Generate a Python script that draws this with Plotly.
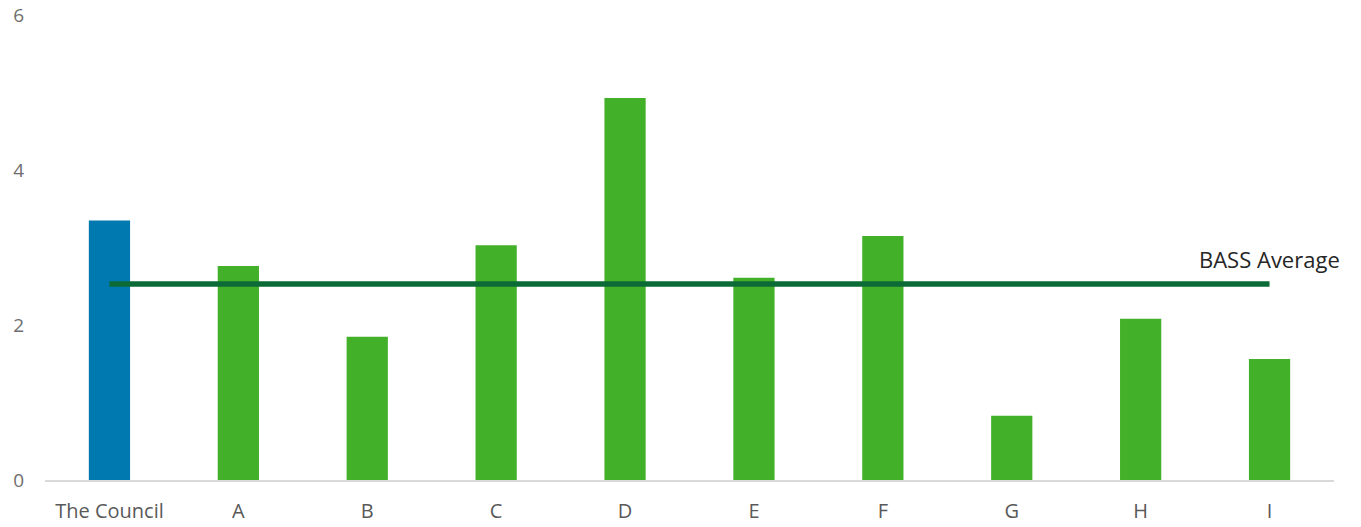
import plotly.graph_objects as go

categories = ["The Council", "A", "B", "C", "D", "E", "F", "G", "H", "I"]
values = [3.35, 2.76, 1.85, 3.03, 4.93, 2.61, 3.15, 0.83, 2.08, 1.56]
bass_average = 2.53
bar_colors = ["#0079B0"] + ["#43B02A"] * 9

fig = go.Figure()
fig.add_trace(go.Bar(
    x=categories, y=values, marker=dict(color=bar_colors, line=dict(width=0)),
    showlegend=False, hoverinfo="x+y",
))
fig.add_trace(go.Scatter(
    x=categories, y=[bass_average] * len(categories), mode="lines",
    line=dict(color="#0B6B36", width=5.5), showlegend=False,
))
fig.add_annotation(
    x=categories[-1], y=bass_average, text="BASS Average", showarrow=False,
    yshift=25, xanchor="center", yanchor="middle",
    font=dict(family="Open Sans", size=22, color="#262626"),
)

fig.update_layout(
    width=1361, height=527,
    margin=dict(l=45, r=27, t=15, b=47, autoexpand=False),
    paper_bgcolor="white", plot_bgcolor="white",
    bargap=0.68,
    font=dict(family="Open Sans", color="#595959"),
    xaxis=dict(
        range=[-0.5, len(categories) - 0.5],
        showgrid=False, showline=True, linecolor="#D9D9D9", linewidth=1.5,
        tickfont=dict(size=20, color="#595959"), ticks="",
        ticklabelstandoff=12, automargin=False,
    ),
    yaxis=dict(
        range=[0, 6], tickvals=[0, 2, 4, 6], showgrid=False, zeroline=False,
        showline=False, ticks="", tickfont=dict(size=19, color="#6E6E6E"),
        ticklabelstandoff=20, automargin=False,
    ),
)

fig.write_html("out.html")
